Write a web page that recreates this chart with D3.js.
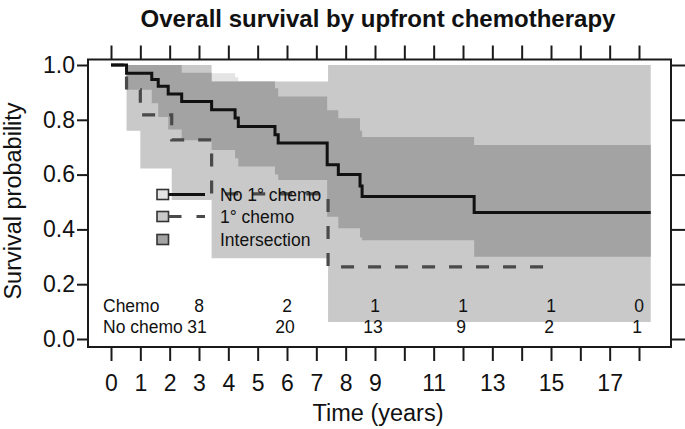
<!DOCTYPE html>
<html><head><meta charset="utf-8">
<script src="https://cdnjs.cloudflare.com/ajax/libs/d3/7.8.5/d3.min.js"></script>
<style>body{margin:0;background:#fff;} text{font-family:"Liberation Sans",Arial,sans-serif;fill:#111;}</style>
</head><body><svg id="c" width="685" height="429"></svg>
<script>
// ---- data ----
const noChemoTimes = [0, 0.53, 1.39, 1.61, 1.95, 2.41, 3.43, 4.23, 4.34, 5.59, 5.70, 7.37, 7.75, 8.49, 8.56, 12.38];
const noChemoSurv  = [1, 0.970, 0.947, 0.922, 0.894, 0.867, 0.837, 0.807, 0.776, 0.745, 0.715, 0.636, 0.600, 0.558, 0.520, 0.462];
const noChemoLower = [1, 0.910, 0.860, 0.810, 0.765, 0.725, 0.690, 0.660, 0.630, 0.600, 0.580, 0.446, 0.404, 0.370, 0.360, 0.300];
const noChemoUpper = [1, 1.000, 1.000, 1.000, 1.000, 0.972, 0.970, 0.955, 0.940, 0.915, 0.885, 0.835, 0.806, 0.760, 0.737, 0.708];
const noChemoEnd = 18.4;

const chemoTimes = [0, 0.53, 1.0, 2.07, 3.43, 7.40];
const chemoSurv  = [1, 0.909, 0.818, 0.727, 0.530, 0.263];
const chemoLower = [1, 0.760, 0.622, 0.507, 0.295, 0.062];
const chemoUpper = [1, 1.000, 1.000, 1.000, 0.940, 1.000];
const chemoLineEnd = 15.2;
const chemoBandEnd = 18.4;

const riskTimes = [3, 6, 9, 12, 15, 18];
const riskChemo = [8, 2, 1, 1, 1, 0];
const riskNoChemo = [31, 20, 13, 9, 2, 1];

const xTicks = d3.range(0, 19);
const xTickLabels = [0,1,2,3,4,5,6,7,8,9,11,13,15,17];
const yTicks = [0, 0.2, 0.4, 0.6, 0.8, 1.0];
const legendLabels = ["No 1\u00b0 chemo", "1\u00b0 chemo", "Intersection"];

// ---- scales ----
const x = d3.scaleLinear().domain([0, 18]).range([111, 639]);
const y = d3.scaleLinear().domain([0, 1]).range([339, 65]);
const xLo = x.invert(88), xHi = x.invert(671), yLo = y.invert(347), yHi = y.invert(59.5);

const svg = d3.select("#c");
const col = {none: "#e4e4e4", chemo: "#c9c9c9", inter: "#a3a3a3"};

function stepPts(times, lo, hi, end) {
  const pts = times.map((t, i) => ({t, lo: lo[i], hi: hi[i]}));
  pts.push({t: end, lo: lo[lo.length - 1], hi: hi[hi.length - 1]});
  return pts;
}
function valAt(times, arr, t) {
  let v = arr[0];
  for (let i = 0; i < times.length; i++) if (times[i] <= t) v = arr[i];
  return v;
}
const area = d3.area().curve(d3.curveStepAfter)
  .x(d => x(d.t)).y0(d => y(d.lo)).y1(d => y(d.hi));

const nPts = stepPts(noChemoTimes, noChemoLower, noChemoUpper, noChemoEnd);
const cPts = stepPts(chemoTimes, chemoLower, chemoUpper, chemoBandEnd);
const allT = Array.from(new Set(noChemoTimes.concat(chemoTimes))).sort((a, b) => a - b);
const iPts = allT.map(t => {
  const lo = Math.max(valAt(noChemoTimes, noChemoLower, t), valAt(chemoTimes, chemoLower, t));
  const hi = Math.min(valAt(noChemoTimes, noChemoUpper, t), valAt(chemoTimes, chemoUpper, t));
  return {t, lo, hi: Math.max(hi, lo)};
});
const lastI = iPts[iPts.length - 1];
iPts.push({t: Math.min(noChemoEnd, chemoBandEnd), lo: lastI.lo, hi: lastI.hi});

svg.append("path").datum(nPts).attr("d", area).attr("fill", col.none);
svg.append("path").datum(cPts).attr("d", area).attr("fill", col.chemo);
svg.append("path").datum(iPts).attr("d", area).attr("fill", col.inter);

// ---- survival lines ----
const line = d3.line().curve(d3.curveStepAfter).x(d => x(d.t)).y(d => y(d.s));
const nLine = noChemoTimes.map((t, i) => ({t, s: noChemoSurv[i]}));
nLine.push({t: noChemoEnd, s: noChemoSurv[noChemoSurv.length - 1]});
const cLine = chemoTimes.map((t, i) => ({t, s: chemoSurv[i]}));
cLine.push({t: chemoLineEnd, s: chemoSurv[chemoSurv.length - 1]});

svg.append("path").datum(cLine).attr("d", line).attr("fill", "none")
  .attr("stroke", "#4a4a4a").attr("stroke-width", 3.2).attr("stroke-dasharray", "13,14");
svg.append("path").datum(nLine).attr("d", line).attr("fill", "none")
  .attr("stroke", "#111").attr("stroke-width", 3);

// ---- frame & axes ----
svg.append("rect").attr("x", x(xLo)).attr("y", y(yHi))
  .attr("width", x(xHi) - x(xLo)).attr("height", y(yLo) - y(yHi))
  .attr("fill", "none").attr("stroke", "#1a1a1a").attr("stroke-width", 2);

const fmtX = d => xTickLabels.includes(d) ? String(d) : "";
const axB = svg.append("g").attr("transform", `translate(0,${y(yLo)})`)
  .call(d3.axisBottom(x).tickValues(xTicks).tickSize(14).tickPadding(14).tickFormat(fmtX));
const axT = svg.append("g").attr("transform", `translate(0,${y(yHi)})`)
  .call(d3.axisTop(x).tickValues(xTicks).tickSize(14).tickFormat(""));
const axL = svg.append("g").attr("transform", `translate(${x(xLo)},0)`)
  .call(d3.axisLeft(y).tickValues(yTicks).tickSize(11).tickPadding(2).tickFormat(d3.format(".1f")));
const axR = svg.append("g").attr("transform", `translate(${x(xHi)},0)`)
  .call(d3.axisRight(y).tickValues(yTicks).tickSize(14).tickFormat(""));
[axB, axT, axL, axR].forEach(g => {
  g.select(".domain").remove();
  g.selectAll(".tick line").attr("stroke", "#1a1a1a").attr("stroke-width", 2);
  g.selectAll("text").attr("font-size", 23).attr("font-family", "Liberation Sans, Arial, sans-serif").attr("fill", "#111");
});

// ---- titles ----
svg.append("text").attr("x", 378).attr("y", 27).attr("text-anchor", "middle")
  .attr("font-size", 24).attr("font-weight", "bold").text("Overall survival by upfront chemotherapy");
svg.append("text").attr("x", 378).attr("y", 421).attr("text-anchor", "middle")
  .attr("font-size", 23.5).text("Time (years)");
svg.append("text").attr("transform", "translate(21,201) rotate(-90)").attr("text-anchor", "middle")
  .attr("font-size", 23.5).text("Survival probability");

// ---- number at risk ----
svg.append("text").attr("x", 103).attr("y", 312).attr("font-size", 17.5).text("Chemo");
svg.append("text").attr("x", 103).attr("y", 333).attr("font-size", 17.5).text("No chemo");
riskTimes.forEach((t, i) => {
  svg.append("text").attr("x", x(t)).attr("y", 312).attr("text-anchor", "middle").attr("font-size", 17.5).text(riskChemo[i]);
  svg.append("text").attr("x", x(t) - 2).attr("y", 333).attr("text-anchor", "middle").attr("font-size", 17.5).text(riskNoChemo[i]);
});

// ---- legend ----
const legFill = [col.none, col.chemo, col.inter];
const legY = [194.5, 216.5, 239.5];
legendLabels.forEach((lab, i) => {
  svg.append("rect").attr("x", 157).attr("y", legY[i] - 5).attr("width", 11.5).attr("height", 10)
    .attr("fill", legFill[i]).attr("stroke", "#333").attr("stroke-width", 1.6);
  if (i === 0) svg.append("line").attr("x1", 168.5).attr("x2", 205).attr("y1", legY[i]).attr("y2", legY[i])
    .attr("stroke", "#111").attr("stroke-width", 3);
  if (i === 1) svg.append("line").attr("x1", 168.5).attr("x2", 205).attr("y1", legY[i]).attr("y2", legY[i])
    .attr("stroke", "#4a4a4a").attr("stroke-width", 3.2).attr("stroke-dasharray", "13,15");
  svg.append("text").attr("x", 220).attr("y", legY[i] + 6.5).attr("font-size", 17.5).text(lab);
});
</script></body></html>
